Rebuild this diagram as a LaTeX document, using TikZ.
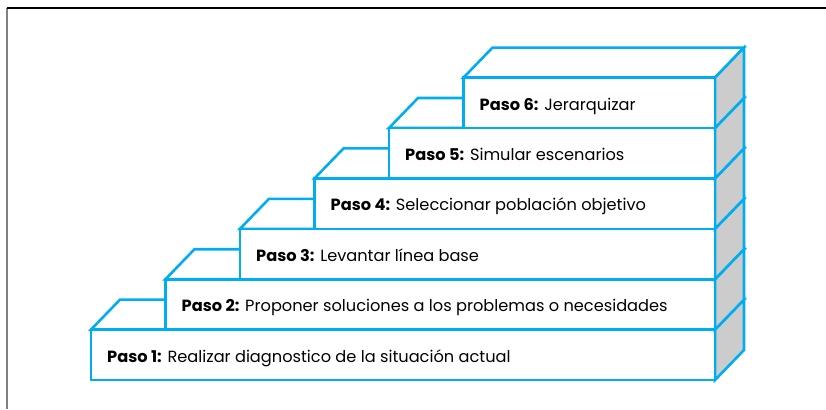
\documentclass[tikz,border=0pt]{standalone}
\usepackage{fontspec}
\setmainfont{Poppins}
\definecolor{escalon}{RGB}{0,174,239}
\definecolor{lateral}{RGB}{204,204,204}
\tikzset{
cara/.style={draw=escalon, line width=2.6pt, line join=miter},
paso/.style={anchor=base west, inner sep=0pt, font=\fontsize{16.2}{18}\selectfont}
}
\begin{document}
\begin{tikzpicture}[x=1pt,y=-1pt]
\useasboundingbox (0,0) rectangle (826,409);
\draw[gray, line width=1.2pt] (7,8)--(7,409);
\draw[black, line width=1.2pt] (7,8)--(826,8);
% escalones de abajo hacia arriba
\foreach \k/\txt in {1/Realizar diagnostico de la situación actual,
2/Proponer soluciones a los problemas o necesidades,
3/Levantar línea base,
4/Seleccionar población objetivo,
5/Simular escenarios,
6/Jerarquizar}{
\pgfmathsetmacro\L{91+74.5*(\k-1)}
\pgfmathsetmacro\T{380-50.4*\k}
\pgfmathsetmacro\B{\T+50.4}
\filldraw[cara, fill=white] (\L,\T)--++(29,-30)--(744,{\T-30})--(715,\T)--cycle;
\filldraw[cara, fill=lateral] (715,\T)--(744,{\T-30})--(744,{\B-30})--(715,\B)--cycle;
\filldraw[cara, fill=white] (\L,\T) rectangle (715,\B);
\node[paso] (paso\k) at ({\L+16},{\T+32.5}) {\textbf{Paso \k:} \txt};
}
\end{tikzpicture}
\end{document}
